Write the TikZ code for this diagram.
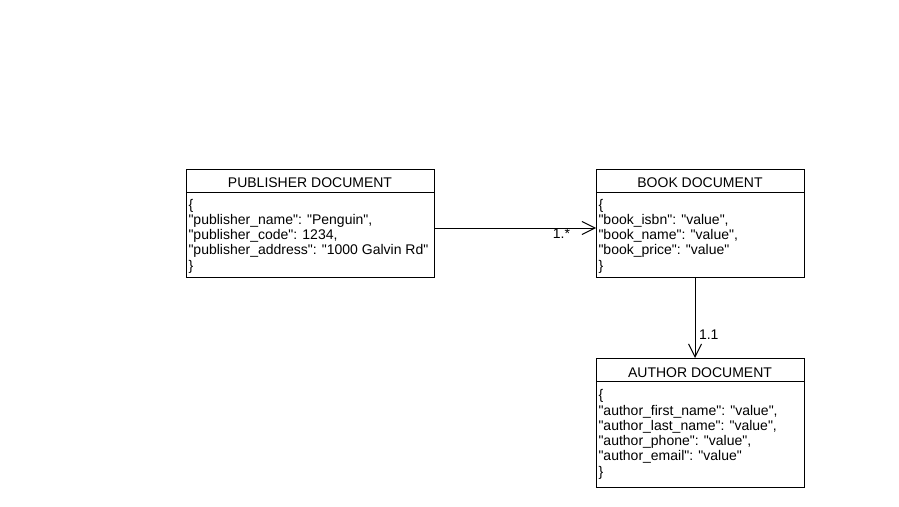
\documentclass[tikz,border=0pt]{standalone}
\usepackage{fontspec}
\setmainfont{Liberation Sans}[Ligatures=TeXOff]
\usetikzlibrary{arrows.meta}
\begin{document}
\begin{tikzpicture}[x=1pt,y=1pt,
  txt/.style={inner sep=0pt, outer sep=0pt, font=\fontsize{14}{15.3}\selectfont},
  doc/.style={draw, line width=1pt, inner sep=0pt, outer sep=0pt, anchor=north west},
  sep/.style={line width=1pt},
  title/.style={txt, anchor=base},
  body/.style={txt, anchor=north west, align=left},
  conn/.style={line width=1pt, -{Straight Barb[length=13pt,width=13pt]}},
  mult/.style={txt}]
\useasboundingbox (0,0) rectangle (899,-506);

% document boxes
\node[doc, minimum width=248pt, minimum height=108pt] (pub)  at (186,-169) {};
\node[doc, minimum width=208pt, minimum height=108pt] (book) at (596,-169) {};
\node[doc, minimum width=208pt, minimum height=129pt] (auth) at (596,-358) {};

% header separators
\draw[sep] ([yshift=-23.5pt]pub.north west)  -- ([yshift=-23.5pt]pub.north east);
\draw[sep] ([yshift=-23.5pt]book.north west) -- ([yshift=-23.5pt]book.north east);
\draw[sep] ([yshift=-23pt]auth.north west)   -- ([yshift=-23pt]auth.north east);

% titles
\node[title] (pubt)  at (310,-187) {PUBLISHER DOCUMENT};
\node[title] (bookt) at (700,-187) {BOOK DOCUMENT};
\node[title] (autht) at (700,-377) {AUTHOR DOCUMENT};

% bodies
\node[body] (pubb) at (188.5,-198.3) {\strut\{\\
"publisher\_name": "Penguin",\\
"publisher\_code": 1234,\\
"publisher\_address": "1000 Galvin Rd"\\
\}};
\node[body] (bookb) at (598.5,-198.3) {\strut\{\\
"book\_isbn": "value",\\
"book\_name": "value",\\
"book\_price": "value"\\
\}};
\node[body] (authb) at (598.5,-389) {\strut\{\\
"author\_first\_name": "value",\\
"author\_last\_name": "value",\\
"author\_phone": "value",\\
"author\_email": "value"\\
\}};

% relations
\draw[conn] ([yshift=-5pt]pub.east) -- ([yshift=-5pt]book.west)
  node[mult, pos=1, anchor=base east, xshift=-26pt, yshift=-10pt] (m1) {1.*};
\draw[conn] ([xshift=-5pt]book.south) -- ([xshift=-5pt]auth.north)
  node[mult, pos=1, anchor=base west, xshift=4pt, yshift=19pt] (m2) {1.1};
\end{tikzpicture}
\end{document}
